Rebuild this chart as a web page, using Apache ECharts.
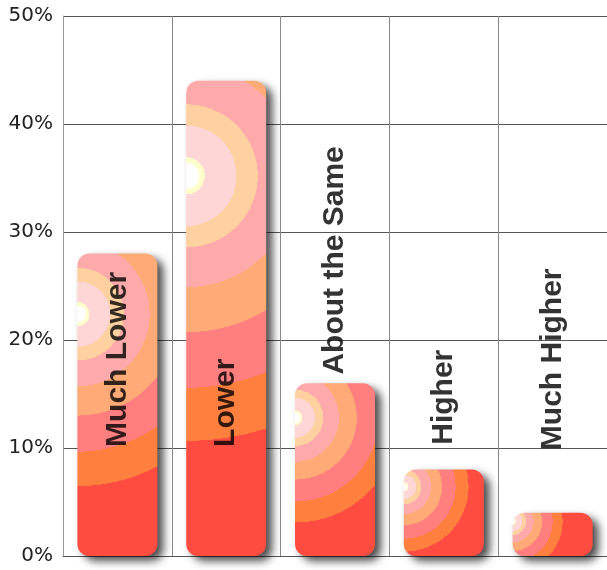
<!DOCTYPE html>
<html>
<head>
<meta charset="utf-8">
<script src="https://cdn.jsdelivr.net/npm/echarts@6/dist/echarts.min.js"></script>
<style>
html,body{margin:0;padding:0;background:#fff;}
#main{width:607px;height:570px;}
</style>
</head>
<body>
<div id="main"></div>
<script>
// ---- data ----
var categories = ['Much Lower', 'Lower', 'About the Same', 'Higher', 'Much Higher'];
var values = [28, 44, 16, 8, 4];
var labelPos = [10.1, 10.1, 16.8, 10.3, 9.8];
var yTicks = [0, 10, 20, 30, 40, 50];

// ---- styling ----
var BAR_W = 80;
var bandColors = ['#ffffff', '#ffffcc', '#ffd6d6', '#ffd0a0', '#ffaaaa', '#ffaa77', '#ff7f7f', '#ff7f3f', '#ff4c40'];
var bandEdges = [0, 0.05, 0.07, 0.19, 0.27, 0.42, 0.59, 0.80, 1.0];

function stops() {
  var s = [];
  for (var i = 0; i < bandColors.length - 1; i++) {
    s.push({offset: bandEdges[i], color: bandColors[i]});
    s.push({offset: Math.max(bandEdges[i], bandEdges[i + 1] - 0.0005), color: bandColors[i]});
  }
  s.push({offset: 1, color: bandColors[bandColors.length - 1]});
  return s;
}

var chart = echarts.init(document.getElementById('main'), null, {renderer: 'canvas'});

function buildOption(barData) {
  return {
    animation: false,
    backgroundColor: '#ffffff',
    grid: {left: 63, top: 16, width: 550, height: 540},
    xAxis: {
      type: 'category',
      data: categories,
      boundaryGap: true,
      axisLine: {show: true, lineStyle: {color: '#555', width: 1}},
      axisTick: {show: false, interval: 0},
      axisLabel: {show: false, interval: 0},
      splitLine: {show: true, interval: 0, lineStyle: {color: '#8a8a8a', width: 1}}
    },
    yAxis: {
      type: 'value',
      min: yTicks[0],
      max: yTicks[yTicks.length - 1],
      interval: 10,
      axisLine: {show: true, lineStyle: {color: '#999', width: 1}},
      axisTick: {show: false},
      axisLabel: {
        formatter: '{value}%',
        margin: 10,
        color: '#222',
        fontFamily: 'DejaVu Sans',
        fontSize: 20
      },
      splitLine: {show: true, lineStyle: {color: '#555', width: 1}}
    },
    series: [
      {
        type: 'bar',
        barWidth: BAR_W,
        data: barData,
        itemStyle: {
          borderRadius: 12,
          shadowColor: 'rgba(0,0,0,0.7)',
          shadowBlur: 8,
          shadowOffsetX: 6,
          shadowOffsetY: 5
        },
        z: 2
      },
      {
        type: 'scatter',
        symbolSize: 1,
        itemStyle: {color: 'rgba(0,0,0,0)'},
        data: labelPos.map(function (v, i) { return [i, v]; }),
        label: {
          show: true,
          position: 'inside',
          rotate: 90,
          align: 'left',
          verticalAlign: 'middle',
          formatter: function (p) { return categories[p.dataIndex]; },
          fontFamily: 'Liberation Sans',
          fontWeight: 'bold',
          fontSize: 30,
          color: '#000',
          textBorderWidth: 0
        },
        z: 5
      }
    ]
  };
}

chart.setOption(buildOption(values.slice()));

var barData = values.map(function (v, i) {
  var p0 = chart.convertToPixel({gridIndex: 0}, [i, 0]);
  var p1 = chart.convertToPixel({gridIndex: 0}, [i, v]);
  var h = p0[1] - p1[1];
  var left = p0[0] - BAR_W / 2;
  var cy = p1[1] + 0.2 * h;
  var R = 0.55 * Math.sqrt(BAR_W * BAR_W + h * h);
  return {
    value: v,
    itemStyle: {
      color: {type: 'radial', x: left, y: cy, r: R, global: true, colorStops: stops()}
    }
  };
});

chart.setOption(buildOption(barData));
</script>
</body>
</html>
